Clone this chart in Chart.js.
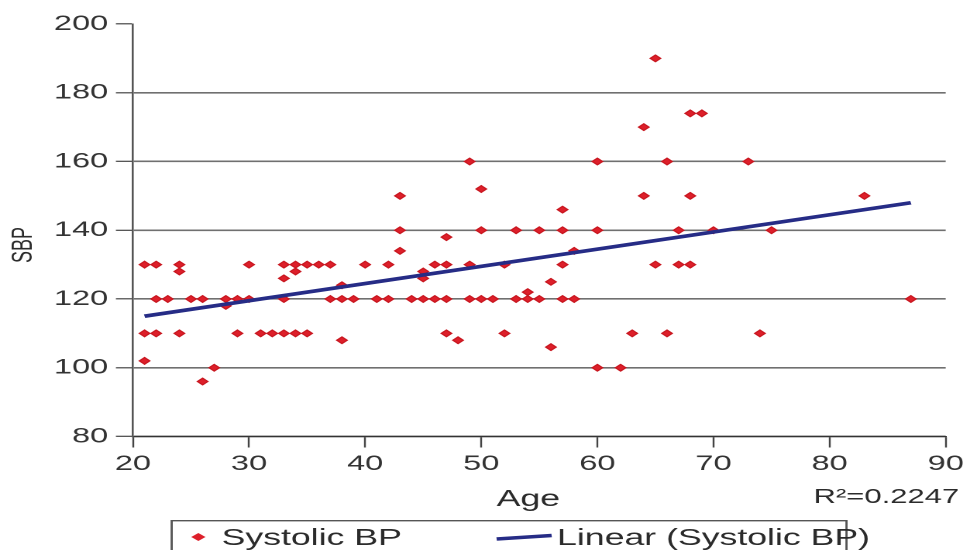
<!DOCTYPE html>
<html>
<head>
<meta charset="utf-8">
<script src="https://cdn.jsdelivr.net/npm/chart.js@4.4.1/dist/chart.umd.min.js"></script>
<style>
  html, body { margin: 0; padding: 0; background: #fff; overflow: hidden; }
  /* the reference is stretched sideways, so the chart is drawn narrow and widened */
  #wrap { width: 626px; height: 550px; transform: scaleX(1.5495); transform-origin: 0 0; }
</style>
</head>
<body>
<div id="wrap"><canvas id="bpChart" width="626" height="550"></canvas></div>
<script>
// Age / tension systolique
const ages = [
  21, 22, 24, 30, 33, 34, 35, 36, 37, 40, 42, 46, 47, 49, 52, 57, 65, 67, 68,
  24, 34, 45,
  33, 45,
  56,
  38,
  54,
  22, 23, 25, 26, 28, 29, 30, 33, 37, 38, 39, 41, 42, 44, 45, 46, 47, 49, 50, 51, 53, 54, 55, 57, 58, 87,
  28,
  21, 22, 24, 29, 31, 32, 33, 34, 35, 47, 52, 63, 66, 74,
  38, 48,
  56,
  21,
  27, 60, 62,
  26,
  43, 58,
  47,
  43, 50, 53, 55, 57, 60, 67, 70, 75,
  57,
  43, 64, 68, 83,
  50,
  49, 60, 66, 73,
  64,
  68, 69,
  65
];
const sbp = [
  130, 130, 130, 130, 130, 130, 130, 130, 130, 130, 130, 130, 130, 130, 130, 130, 130, 130, 130,
  128, 128, 128,
  126, 126,
  125,
  124,
  122,
  120, 120, 120, 120, 120, 120, 120, 120, 120, 120, 120, 120, 120, 120, 120, 120, 120, 120, 120, 120, 120, 120, 120, 120, 120, 120,
  118,
  110, 110, 110, 110, 110, 110, 110, 110, 110, 110, 110, 110, 110, 110,
  108, 108,
  106,
  102,
  100, 100, 100,
  96,
  134, 134,
  138,
  140, 140, 140, 140, 140, 140, 140, 140, 140,
  146,
  150, 150, 150, 150,
  152,
  160, 160, 160, 160,
  170,
  174, 174,
  190
];

// Droite de tendance (extrémités)
const trendAges = [21, 87];
const trendSbp = [115, 148];

const xTicks = [20, 30, 40, 50, 60, 70, 80, 90];
const yTicks = [80, 100, 120, 140, 160, 180, 200];
const rSquared = "R²=0.2247";

const FONT = '"Liberation Sans", Arial, sans-serif';

// Titres, R² et légende encadrée
const decorations = {
  id: "decorations",
  afterDraw(chart) {
    const ctx = chart.ctx;
    const sets = chart.data.datasets;
    ctx.save();
    ctx.fillStyle = "#2b2b2b";

    ctx.font = "23px " + FONT;
    ctx.textAlign = "center";
    ctx.textBaseline = "alphabetic";
    ctx.fillText("Age", 341, 506);

    ctx.font = "20px " + FONT;
    ctx.textAlign = "right";
    ctx.fillText(rSquared, 619, 503);

    ctx.save();
    ctx.translate(20.5, 245);
    ctx.rotate(-Math.PI / 2);
    ctx.font = "18px " + FONT;
    ctx.textAlign = "center";
    ctx.fillText("SBP", 0, 0);
    ctx.restore();

    // cadre de légende
    ctx.strokeStyle = "#555";
    ctx.lineWidth = 1.4;
    ctx.strokeRect(110.8, 520.7, 435.5, 60);

    // losange
    ctx.fillStyle = sets[0].backgroundColor;
    ctx.beginPath();
    ctx.moveTo(128 - 4.6, 537);
    ctx.lineTo(128, 537 - 4);
    ctx.lineTo(128 + 4.6, 537);
    ctx.lineTo(128, 537 + 4);
    ctx.closePath();
    ctx.fill();

    // trait
    ctx.strokeStyle = sets[1].borderColor;
    ctx.lineWidth = 3.5;
    ctx.beginPath();
    ctx.moveTo(320.5, 539);
    ctx.lineTo(356, 535.5);
    ctx.stroke();

    ctx.fillStyle = "#2b2b2b";
    ctx.font = "23px " + FONT;
    ctx.textAlign = "left";
    ctx.fillText(sets[0].label, 143, 545);
    ctx.fillText(sets[1].label, 359.5, 545);
    ctx.restore();
  }
};

new Chart(document.getElementById("bpChart"), {
  type: "scatter",
  data: {
    datasets: [
      {
        label: "Systolic BP",
        data: ages.map((a, i) => ({ x: a, y: sbp[i] })),
        pointStyle: "rectRot",
        pointRadius: 3.4,
        pointHoverRadius: 3.4,
        backgroundColor: "#dd1f2a",
        borderColor: "#c8161f",
        borderWidth: 1,
        order: 1
      },
      {
        label: "Linear (Systolic BP)",
        data: trendAges.map((a, i) => ({ x: a, y: trendSbp[i] })),
        showLine: true,
        pointRadius: 0,
        borderColor: "#262c86",
        backgroundColor: "#262c86",
        borderWidth: 3.6,
        order: 0
      }
    ]
  },
  options: {
    responsive: false,
    animation: false,
    devicePixelRatio: 2,
    layout: { padding: { top: 24, right: 10.5, left: 0, bottom: 0 } },
    plugins: { legend: { display: false }, tooltip: { enabled: false } },
    scales: {
      x: {
        type: "linear",
        min: xTicks[0],
        max: xTicks[xTicks.length - 1],
        afterFit: (scale) => { scale.height = 113.5; },
        ticks: { stepSize: 10, padding: 4, color: "#333", font: { family: FONT, size: 21 } },
        grid: { drawOnChartArea: false, drawTicks: true, tickLength: 11, tickColor: "#444", tickWidth: 1.2 },
        border: { color: "#333", width: 1.2 }
      },
      y: {
        min: yTicks[0],
        max: yTicks[yTicks.length - 1],
        afterFit: (scale) => { scale.width = 85.8; },
        ticks: { stepSize: 20, padding: 5, color: "#333", font: { family: FONT, size: 21 } },
        grid: {
          color: (c) => (c.tick && c.tick.value === yTicks[yTicks.length - 1]) ? "rgba(0,0,0,0)" : "#707070",
          lineWidth: 1.6,
          tickLength: 11,
          tickColor: "#444",
          tickWidth: 1.2
        },
        border: { color: "#555", width: 1.3 }
      }
    }
  },
  plugins: [decorations]
});
</script>
</body>
</html>
